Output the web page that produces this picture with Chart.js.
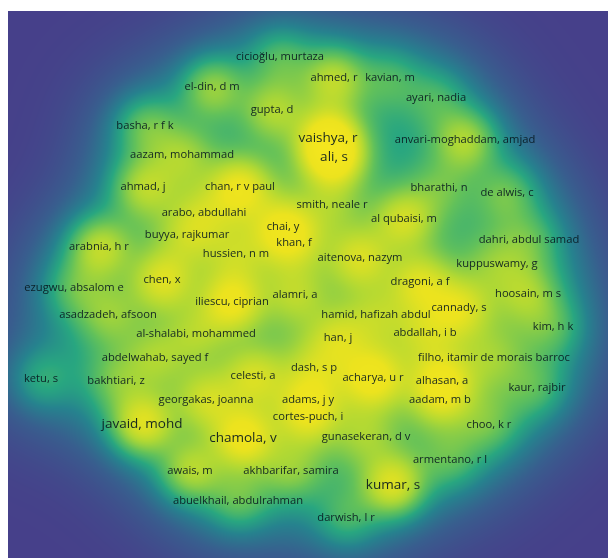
<!DOCTYPE html>
<html lang="en">
<head>
    <meta charset="UTF-8">
    <title>Author density map</title>
    <script src="https://cdn.jsdelivr.net/npm/chart.js"></script>
    <style>
        body { margin: 0; background: #fff; }
        #wrap { width: 608px; height: 558px; }
    </style>
</head>
<body>
    <div id="wrap"><canvas id="densityChart" width="608" height="558"></canvas></div>

    <script>
        // authors (items) and their map coordinates
        const authors = [
            'cicioğlu, murtaza', 'ahmed, r', 'kavian, m', 'el-din, d m', 'ayari, nadia',
            'gupta, d', 'basha, r f k', 'vaishya, r', 'anvari-moghaddam, amjad', 'ali, s',
            'aazam, mohammad', 'ahmad, j', 'chan, r v paul', 'bharathi, n', 'de alwis, c',
            'smith, neale r', 'arabo, abdullahi', 'al qubaisi, m', 'chai, y', 'buyya, rajkumar',
            'khan, f', 'dahri, abdul samad', 'arabnia, h r', 'hussien, n m', 'aitenova, nazym',
            'kuppuswamy, g', 'chen, x', 'dragoni, a f', 'ezugwu, absalom e', 'hoosain, m s',
            'iliescu, ciprian', 'alamri, a', 'hamid, hafizah abdul', 'cannady, s', 'asadzadeh, afsoon',
            'kim, h k', 'al-shalabi, mohammed', 'han, j', 'abdallah, i b', 'abdelwahab, sayed f',
            'filho, itamir de morais barroc', 'ketu, s', 'bakhtiari, z', 'celesti, a', 'dash, s p',
            'acharya, u r', 'alhasan, a', 'kaur, rajbir', 'georgakas, joanna', 'adams, j y',
            'aadam, m b', 'cortes-puch, i', 'javaid, mohd', 'choo, k r', 'chamola, v',
            'gunasekeran, d v', 'armentano, r l', 'awais, m', 'akhbarifar, samira', 'kumar, s',
            'abuelkhail, abdulrahman', 'darwish, l r'
        ];
        const xVals = [
            280, 334, 390, 212, 436,
            272, 145, 328, 465, 334,
            182, 143, 240, 439, 507,
            332, 204, 404, 283, 187,
            294, 529, 99, 236, 360,
            497, 162, 420, 74, 528,
            232, 295, 376, 459, 108,
            553, 196, 338, 425, 155,
            494, 41, 116, 253, 314,
            373, 442, 537, 206, 308,
            440, 308, 142, 489, 243,
            366, 450, 190, 291, 393,
            238, 346
        ];
        const yVals = [
            57, 78, 78, 87, 98,
            110, 126, 138, 140, 157,
            155, 187, 187, 188, 193,
            205, 213, 219, 227, 235,
            243, 240, 247, 254, 258,
            264, 280, 282, 288, 294,
            302, 295, 315, 308, 315,
            327, 334, 338, 333, 358,
            358, 379, 381, 376, 368,
            378, 381, 388, 400, 400,
            400, 417, 424, 425, 438,
            437, 460, 471, 471, 485,
            501, 518
        ];
        // item weights (documents), bigger items get bigger labels and hotter spots
        const weights = [
            1.0, 1.6, 0.9, 1.5, 0.9,
            1.4, 1.2, 2.0, 1.6, 2.0,
            1.2, 1.5, 1.9, 0.9, 1.1,
            0.9, 1.0, 1.7, 1.6, 1.1,
            1.1, 0.9, 1.7, 1.0, 1.6,
            0.9, 1.7, 1.6, 1.0, 1.2,
            1.9, 1.2, 1.0, 1.6, 1.1,
            0.9, 1.1, 1.3, 1.1, 1.1,
            0.9, 1.0, 1.0, 1.5, 1.0,
            1.9, 1.6, 0.9, 1.5, 1.1,
            1.1, 1.3, 2.0, 0.9, 2.0,
            1.1, 0.9, 1.6, 1.1, 2.0,
            1.1, 1.0
        ];
        const bigLabel = 1.95;

        // viridis-like colour ramp used by the density view
        const ramp = [
            [0.00, [70, 64, 138]],
            [0.20, [56, 94, 142]],
            [0.38, [38, 130, 142]],
            [0.52, [40, 166, 128]],
            [0.65, [98, 193, 90]],
            [0.77, [175, 216, 52]],
            [0.87, [236, 227, 30]],
            [1.00, [250, 232, 30]]
        ];

        function rampColor(t) {
            t = Math.max(0, Math.min(1, t));
            for (let i = 1; i < ramp.length; i++) {
                if (t <= ramp[i][0]) {
                    const a = ramp[i - 1], b = ramp[i];
                    const f = (t - a[0]) / (b[0] - a[0]);
                    return a[1].map((c, k) => c + (b[1][k] - c) * f);
                }
            }
            return ramp[ramp.length - 1][1];
        }

        const densityPlugin = {
            id: 'density',
            beforeDatasetsDraw(chart) {
                const area = chart.chartArea;
                const xs = chart.scales.x, ys = chart.scales.y;
                const w = Math.round(area.right - area.left);
                const h = Math.round(area.bottom - area.top);
                const px = xVals.map(v => xs.getPixelForValue(v) - area.left);
                const py = yVals.map(v => ys.getPixelForValue(v) - area.top);
                const amp = weights.map(v => 0.36 * Math.pow(v, 1.6));
                // narrow kernel for the spots, wide one for the cloud
                const kn = 1 / (2 * 21 * 21);
                const kw = 1 / (2 * 46 * 46);
                const sat = 0.95;

                const off = document.createElement('canvas');
                off.width = w; off.height = h;
                const octx = off.getContext('2d');
                const img = octx.createImageData(w, h);
                for (let y = 0; y < h; y++) {
                    for (let x = 0; x < w; x++) {
                        let d = 0;
                        for (let i = 0; i < px.length; i++) {
                            const dx = x - px[i], dy = y - py[i];
                            const r2 = dx * dx + dy * dy;
                            if (r2 < 42000) {
                                d += 0.23 * Math.exp(-r2 * kw) + amp[i] * Math.exp(-r2 * kn);
                            }
                        }
                        const c = rampColor(1 - Math.exp(-d / sat));
                        const j = (y * w + x) * 4;
                        img.data[j] = c[0];
                        img.data[j + 1] = c[1];
                        img.data[j + 2] = c[2];
                        img.data[j + 3] = 255;
                    }
                }
                octx.putImageData(img, 0, 0);
                chart.ctx.drawImage(off, area.left, area.top);
            },
            afterDatasetsDraw(chart) {
                const ctx = chart.ctx;
                const meta = chart.getDatasetMeta(0);
                ctx.save();
                ctx.textAlign = 'center';
                ctx.textBaseline = 'middle';
                ctx.fillStyle = 'rgba(8, 24, 32, 0.92)';
                meta.data.forEach((pt, i) => {
                    const size = weights[i] >= bigLabel ? 13.5 : 11.2;
                    ctx.font = size + 'px "Open Sans", sans-serif';
                    ctx.fillText(authors[i], pt.x, pt.y);
                });
                ctx.restore();
            }
        };

        const ctx = document.getElementById('densityChart').getContext('2d');
        new Chart(ctx, {
            type: 'scatter',
            data: {
                datasets: [{
                    data: xVals.map((x, i) => ({ x: x, y: yVals[i] })),
                    pointRadius: 0
                }]
            },
            options: {
                responsive: false,
                animation: false,
                layout: { padding: { left: 8, top: 11 } },
                plugins: {
                    legend: { display: false },
                    tooltip: { enabled: false }
                },
                scales: {
                    x: { display: false, min: 8, max: 608 },
                    y: { display: false, min: 11, max: 558, reverse: true }
                }
            },
            plugins: [densityPlugin]
        });
    </script>
</body>
</html>
